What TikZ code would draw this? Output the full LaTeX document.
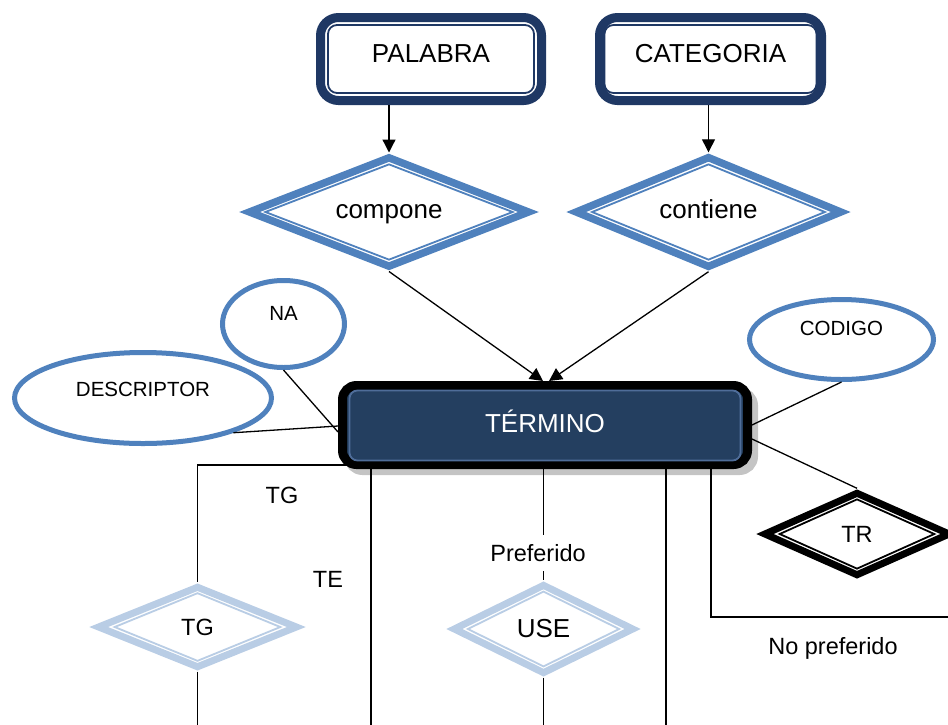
\documentclass[tikz,border=0pt]{standalone}
\usepackage{fontspec}
\setmainfont{Liberation Sans}
\usetikzlibrary{shapes.geometric,arrows.meta,calc,shadows}
\definecolor{navy}{HTML}{1F3864}
\definecolor{termfill}{HTML}{243F60}
\definecolor{terminner}{HTML}{4F6D99}
\definecolor{midblue}{HTML}{4F81BD}
\definecolor{paleblue}{HTML}{B9CDE5}
\definecolor{shadowgray}{HTML}{C4C4C4}
\begin{document}
\begin{tikzpicture}[x=1pt,y=-1pt,
  conn/.style={draw=black, line width=1.3pt},
  arr/.style={conn, -{Triangle[length=13pt,width=13pt]}},
  fbig/.style={font=\fontsize{26}{31}\selectfont},
  fmid/.style={font=\fontsize{23.5}{28}\selectfont},
  fsmall/.style={font=\fontsize{20.5}{25}\selectfont},
  entity/.style={rectangle, rounded corners=18pt, draw=navy, line width=9pt, fill=white, inner sep=0pt, minimum height=83pt},
  entityin/.style={rectangle, rounded corners=9pt, draw=navy, line width=1.8pt, inner sep=0pt, minimum height=68pt},
  attr/.style={ellipse, draw=midblue, line width=5pt, fill=white, inner sep=0pt},
  dia/.style={diamond, aspect=2.5, inner sep=0pt, line join=miter},
  rel/.style={dia, draw=midblue, line width=7.5pt, fill=white, fbig, text height=18pt, text depth=6pt},
  relin/.style={dia, draw=midblue, line width=1.8pt},
  weak/.style={dia, draw=paleblue, line width=7pt, fill=white},
  weakin/.style={dia, draw=paleblue, line width=1.8pt},
  ident/.style={dia, draw=black, line width=7pt, fill=white},
  identin/.style={dia, draw=black, line width=1.8pt},
]
\useasboundingbox (0,0) rectangle (948,724);

% entities
\node[entity, minimum width=221pt, label={[fbig,yshift=5pt]center:PALABRA}] (palabra) at (431,59) {};
\node[entityin, minimum width=206pt] (palabra-in) at (palabra) {};
\node[entity, minimum width=222pt, label={[fbig,yshift=5pt]center:CATEGORIA}] (categoria) at (710.5,59) {};
\node[entityin, minimum width=212pt] (categoria-in) at (categoria) {};

% relationships
\node[rel, minimum width=282pt, minimum height=111.5pt] (compone) at (389,212) {compone};
\node[relin, minimum width=248pt, minimum height=96pt] (compone-in) at (compone) {};
\node[rel, minimum width=267.6pt, minimum height=111.9pt] (contiene) at (708.5,212) {contiene};
\node[relin, minimum width=233.6pt, minimum height=96pt] (contiene-in) at (contiene) {};

% attributes
\node[attr, minimum width=122pt, minimum height=87pt, label={[fsmall,yshift=11pt]center:NA}] (na) at (283.5,324) {};
\node[attr, minimum width=257pt, minimum height=91pt, label={[fsmall,yshift=9pt]center:DESCRIPTOR}] (desc) at (143,398) {};
\node[attr, minimum width=184pt, minimum height=80pt, label={[fsmall,yshift=11.5pt]center:CODIGO}] (codigo) at (841.5,339.5) {};

% main entity
\node[rectangle, rounded corners=14pt, draw=black, line width=9pt, fill=termfill, inner sep=0pt,
      minimum width=405pt, minimum height=79pt,
      drop shadow={shadow xshift=6pt, shadow yshift=-6pt, fill=shadowgray, draw=shadowgray, line width=9pt, opacity=1},
      label={[fbig, text=white, yshift=4pt]center:TÉRMINO}] (termino) at (545,425) {};
\node[rectangle, rounded corners=8pt, draw=terminner, line width=1.8pt, inner sep=0pt, minimum width=391pt, minimum height=70pt] (termino-in) at (545,425.5) {};

% lower relationships
\node[ident, minimum width=187pt, minimum height=84.4pt, fmid] (tr) at (857,534) {TR};
\node[identin, minimum width=155.4pt, minimum height=70pt] (tr-in) at (tr) {};
\node[weak, minimum width=200.6pt, minimum height=82.4pt, fmid] (tgd) at (197.5,627) {TG};
\node[weakin, minimum width=166.4pt, minimum height=68.4pt] (tgd-in) at (tgd) {};
\node[weak, minimum width=181.2pt, minimum height=90.2pt, fbig] (use) at (543.5,629) {USE};
\node[weakin, minimum width=152pt, minimum height=75.6pt] (use-in) at (use) {};

% connectors
\coordinate (bottom) at (0,728);
\coordinate (npend) at (952,617);
\coordinate (t1) at ($(termino.south west)+(33,0)$);
\coordinate (t3) at ($(termino.south west)+(328,0)$);
\coordinate (t4) at ($(termino.south east)+(-41,0)$);

\draw[arr] (compone.north |- palabra.south) -- (compone.north);
\draw[arr] (contiene.north |- categoria.south) -- (contiene.north);
\draw[arr] (compone.south) -- ($(termino.north)+(-2,0)$);
\draw[arr] (contiene.south) -- ($(termino.north)+(4,0)$);
\draw[conn] (na.south) -- ($(termino.west)+(0,7)$);
\draw[conn] (desc.-21) -- ($(termino.west)+(0,1)$);
\draw[conn] (codigo.south) -- (termino.east);
\draw[conn] ($(termino.east)+(0,14)$) -- (tr.north);
\draw[conn] ($(termino.south west)+(10,-4)$) -| (tgd.north);
\draw[conn] (tgd.south) -- (tgd.south |- bottom);
\draw[conn] (t1) -- (t1 |- bottom);
\draw[conn] (use.north |- termino.south) -- (use.north);
\draw[conn] (use.south) -- (use.south |- bottom);
\draw[conn] (t3) -- (t3 |- bottom);
\draw[conn] (t4) |- (npend);

% labels
\node[fmid, fill=white, inner xsep=2pt, inner ysep=9pt] (pref) at (538,553) {Preferido};
\node[fmid] (tglbl) at (282,495) {TG};
\node[fmid] (telbl) at (328,579) {TE};
\node[fmid] (noprefl) at (833,648) {No preferido};
\end{tikzpicture}
\end{document}
